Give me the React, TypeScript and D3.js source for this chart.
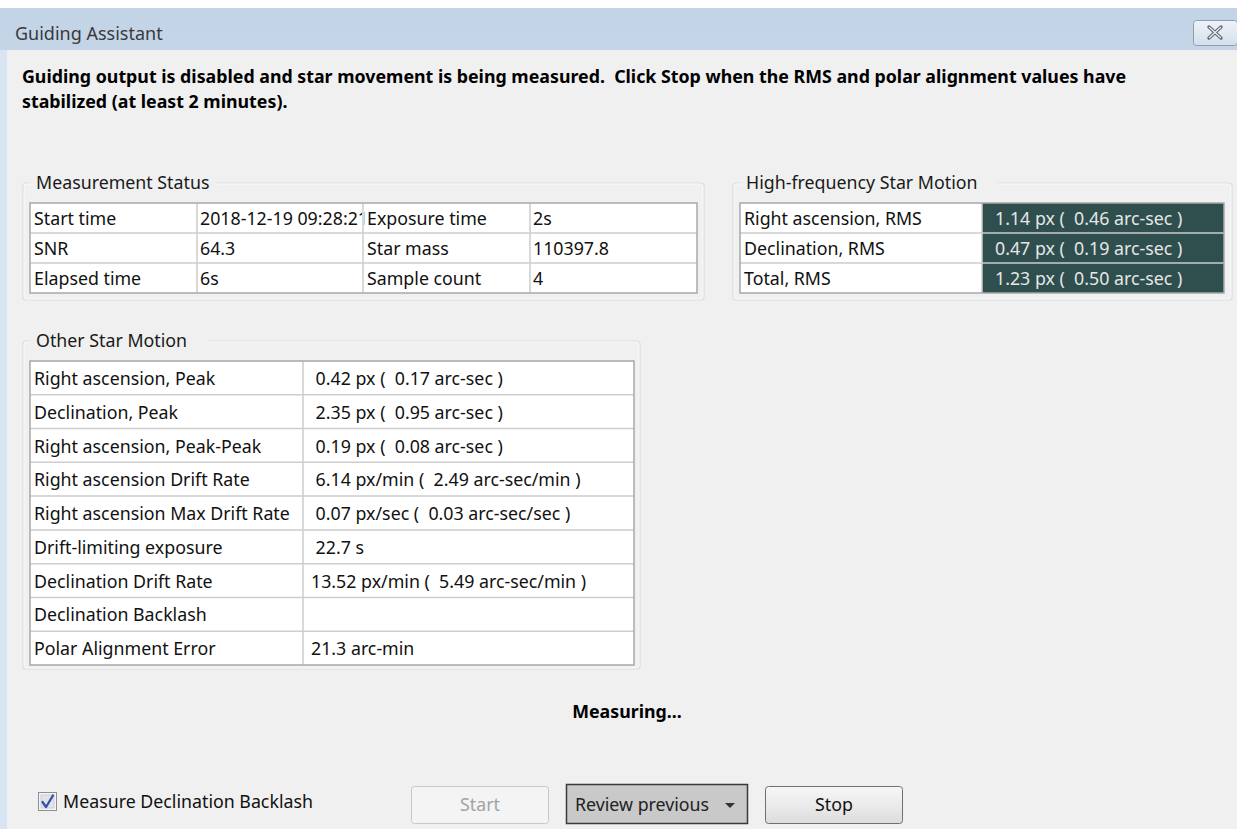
import React from "react";
import * as d3 from "d3";

const W = 1237;
const H = 829;
const FONT = "'Noto Sans', 'Open Sans', sans-serif";
const FS = 17.8;

const windowTitle = "Guiding Assistant";
const headingLines = [
  "Guiding output is disabled and star movement is being measured.  Click Stop when the RMS and polar alignment values have",
  "stabilized (at least 2 minutes).",
];

const statusTitle = "Measurement Status";
const statusLabelsA = ["Start time", "SNR", "Elapsed time"];
const statusValuesA = ["2018-12-19 09:28:21", "64.3", "6s"];
const statusLabelsB = ["Exposure time", "Star mass", "Sample count"];
const statusValuesB = ["2s", "110397.8", "4"];

const hfTitle = "High-frequency Star Motion";
const hfLabels = ["Right ascension, RMS", "Declination, RMS", "Total, RMS"];
const hfValues = ["1.14 px (  0.46 arc-sec )", "0.47 px (  0.19 arc-sec )", "1.23 px (  0.50 arc-sec )"];

const otherTitle = "Other Star Motion";
const otherLabels = [
  "Right ascension, Peak",
  "Declination, Peak",
  "Right ascension, Peak-Peak",
  "Right ascension Drift Rate",
  "Right ascension Max Drift Rate",
  "Drift-limiting exposure",
  "Declination Drift Rate",
  "Declination Backlash",
  "Polar Alignment Error",
];
const otherValues = [
  " 0.42 px (  0.17 arc-sec )",
  " 2.35 px (  0.95 arc-sec )",
  " 0.19 px (  0.08 arc-sec )",
  " 6.14 px/min (  2.49 arc-sec/min )",
  " 0.07 px/sec (  0.03 arc-sec/sec )",
  " 22.7 s",
  "13.52 px/min (  5.49 arc-sec/min )",
  "",
  "21.3 arc-min",
];

const statusText = "Measuring...";
const checkboxLabel = "Measure Declination Backlash";
const buttonLabels = ["Start", "Review previous", "Stop"];

function GroupBox({ x, y, w, h, title, titleW }: any) {
  return (
    <g>
      <rect x={x} y={y} width={w} height={h} rx={3} fill="none" stroke="#d8dde2" strokeWidth={1.2} />
      <rect x={x + 1} y={y + 1} width={w - 2} height={h - 2} rx={2} fill="none" stroke="#ffffff" strokeWidth={0.8} opacity={0.8} />
      <rect x={x + 8} y={y - 12} width={titleW} height={22} fill="#f0f0f0" />
      <text x={x + 13} y={y + 6} fontSize={FS} fill="#1a1a1a" fontFamily={FONT}>{title}</text>
    </g>
  );
}

export default function App() {
  const msY = d3.scaleBand<number>().domain(d3.range(3)).range([203, 293]);
  const msColX = [30, 197, 363, 530, 697];
  const hfY = d3.scaleBand<number>().domain(d3.range(3)).range([203, 293]);
  const hfColX = [740, 982, 1224];
  const osY = d3.scaleBand<number>().domain(d3.range(otherLabels.length)).range([361, 665]);
  const osColX = [30, 303, 634];

  const gridStroke = "#cdcdcd";
  const outerStroke = "#a8a8a8";

  return (
    <svg width={W} height={H} style={{ position: "absolute", left: 0, top: 0 }} fontFamily={FONT}>
      <defs>
        <linearGradient id="tb" x1="0" y1="0" x2="0" y2="1">
          <stop offset="0" stopColor="#c3d4e7" />
          <stop offset="1" stopColor="#d9e5f2" />
        </linearGradient>
        <linearGradient id="btn" x1="0" y1="0" x2="0" y2="1">
          <stop offset="0" stopColor="#f6f6f6" />
          <stop offset="0.5" stopColor="#ebebeb" />
          <stop offset="1" stopColor="#dcdcdc" />
        </linearGradient>
        <linearGradient id="close" x1="0" y1="0" x2="0" y2="1">
          <stop offset="0" stopColor="#eef3f9" />
          <stop offset="1" stopColor="#d4dfec" />
        </linearGradient>
        <clipPath id="msClip">
          {d3.range(4).map((c) => (
            <rect key={c} x={msColX[c] + 1} y={203} width={msColX[c + 1] - msColX[c] - 2} height={90} />
          ))}
        </clipPath>
      </defs>
      <rect x={0} y={0} width={W} height={H} fill="#ffffff" />
      <rect x={0} y={8} width={W} height={H - 8} fill="url(#tb)" />
      <rect x={0} y={50} width={7} height={H - 50} fill="#d7e4f2" />
      <rect x={7} y={50} width={W - 7} height={H - 50} fill="#f0f0f0" />
      <text x={15} y={40} fontSize={18} fill="#3a3a3a">{windowTitle}</text>
      <rect x={1193.5} y={20.5} width={44} height={25} rx={3} fill="url(#close)" stroke="#8d9cb0" />
      <g stroke="#5f6670" strokeWidth={3.4} strokeLinecap="round">
        <line x1={1209} y1={27} x2={1221} y2={38} />
        <line x1={1221} y1={27} x2={1209} y2={38} />
      </g>
      <g stroke="#eef1f4" strokeWidth={1.2}>
        <line x1={1209} y1={27} x2={1221} y2={38} />
        <line x1={1221} y1={27} x2={1209} y2={38} />
      </g>

      {headingLines.map((l, i) => (
        <text key={i} x={22} y={83 + i * 25} fontSize={FS} fontWeight="bold" fill="#000" xmlSpace="preserve">{l}</text>
      ))}

      {/* Measurement Status */}
      <GroupBox x={23} y={183} w={681} h={117} title={statusTitle} titleW={186} />
      <rect x={msColX[0]} y={203} width={msColX[4] - msColX[0]} height={90} fill="#ffffff" />
      <g clipPath="url(#msClip)">
        {d3.range(3).map((i) => (
          <g key={i}>
            <text x={msColX[0] + 4} y={(msY(i) as number) + 22} fontSize={FS} fill="#111">{statusLabelsA[i]}</text>
            <text x={msColX[1] + 3} y={(msY(i) as number) + 22} fontSize={FS} fill="#111">{statusValuesA[i]}</text>
            <text x={msColX[2] + 4} y={(msY(i) as number) + 22} fontSize={FS} fill="#111">{statusLabelsB[i]}</text>
            <text x={msColX[3] + 3} y={(msY(i) as number) + 22} fontSize={FS} fill="#111">{statusValuesB[i]}</text>
          </g>
        ))}
      </g>
      {d3.range(1, 3).map((i) => (
        <line key={"h" + i} x1={msColX[0]} x2={msColX[4]} y1={msY(i) as number} y2={msY(i) as number} stroke={gridStroke} strokeWidth={1.5} />
      ))}
      {msColX.slice(1, 4).map((cx, i) => (
        <line key={"v" + i} x1={cx} x2={cx} y1={203} y2={293} stroke={gridStroke} strokeWidth={1.5} />
      ))}
      <rect x={msColX[0]} y={203} width={msColX[4] - msColX[0]} height={90} fill="none" stroke={outerStroke} strokeWidth={1.5} />

      {/* High-frequency Star Motion */}
      <GroupBox x={733} y={183} w={499} h={117} title={hfTitle} titleW={256} />
      <rect x={hfColX[0]} y={203} width={hfColX[1] - hfColX[0]} height={90} fill="#ffffff" />
      <rect x={hfColX[1]} y={203} width={hfColX[2] - hfColX[1]} height={90} fill="#2f4f4f" />
      {d3.range(3).map((i) => (
        <g key={i}>
          <text x={hfColX[0] + 4} y={(hfY(i) as number) + 22} fontSize={FS} fill="#111">{hfLabels[i]}</text>
          <text x={hfColX[1] + 13} y={(hfY(i) as number) + 22} fontSize={FS} fill="#e6e6e6" xmlSpace="preserve">{hfValues[i]}</text>
        </g>
      ))}
      {d3.range(1, 3).map((i) => (
        <line key={"h" + i} x1={hfColX[0]} x2={hfColX[2]} y1={hfY(i) as number} y2={hfY(i) as number} stroke={gridStroke} strokeWidth={1.5} />
      ))}
      <line x1={hfColX[1]} x2={hfColX[1]} y1={203} y2={293} stroke={gridStroke} strokeWidth={1.5} />
      <rect x={hfColX[0]} y={203} width={hfColX[2] - hfColX[0]} height={90} fill="none" stroke={outerStroke} strokeWidth={1.5} />

      {/* Other Star Motion */}
      <GroupBox x={23} y={341} w={617} h={328} title={otherTitle} titleW={178} />
      <rect x={osColX[0]} y={361} width={osColX[2] - osColX[0]} height={304} fill="#ffffff" />
      {otherLabels.map((l, i) => (
        <g key={i}>
          <text x={osColX[0] + 4} y={(osY(i) as number) + 24} fontSize={FS} fill="#111">{l}</text>
          <text x={osColX[1] + 8} y={(osY(i) as number) + 24} fontSize={FS} fill="#111" xmlSpace="preserve">{otherValues[i]}</text>
        </g>
      ))}
      {d3.range(1, otherLabels.length).map((i) => (
        <line key={"h" + i} x1={osColX[0]} x2={osColX[2]} y1={osY(i) as number} y2={osY(i) as number} stroke={gridStroke} strokeWidth={1.5} />
      ))}
      <line x1={osColX[1]} x2={osColX[1]} y1={361} y2={665} stroke={gridStroke} strokeWidth={1.5} />
      <rect x={osColX[0]} y={361} width={osColX[2] - osColX[0]} height={304} fill="none" stroke={outerStroke} strokeWidth={1.5} />

      <text x={627} y={718} fontSize={FS} fontWeight="bold" textAnchor="middle" fill="#000">{statusText}</text>

      {/* checkbox */}
      <rect x={38.5} y={792.5} width={18} height={18} fill="#f4f4f4" stroke="#8e8f8f" />
      <rect x={41} y={795} width={13} height={13} fill="#dfe3ea" stroke="#c4c8cf" strokeWidth={0.8} />
      <path d="M42.5 802 L46 807 L53 795.5" fill="none" stroke="#3550a8" strokeWidth={2.3} strokeLinejoin="round" strokeLinecap="round" />
      <text x={63} y={808} fontSize={FS} fill="#111">{checkboxLabel}</text>

      {/* buttons */}
      <rect x={411.5} y={786.5} width={137} height={37} rx={3} fill="#f4f4f4" stroke="#c8c8c8" />
      <text x={480} y={811} fontSize={FS} textAnchor="middle" fill="#a3a3a3">{buttonLabels[0]}</text>

      <rect x={566.5} y={784.5} width={181} height={39} fill="#c9c9c9" stroke="#3a3a3a" strokeWidth={1.5} />
      <text x={575} y={811} fontSize={FS} fill="#222">{buttonLabels[1]}</text>
      <path d="M725 803 L735 803 L730 808 Z" fill="#333" />

      <rect x={765.5} y={786.5} width={137} height={37} rx={3} fill="url(#btn)" stroke="#707070" />
      <text x={834} y={811} fontSize={FS} textAnchor="middle" fill="#111">{buttonLabels[2]}</text>
    </svg>
  );
}
